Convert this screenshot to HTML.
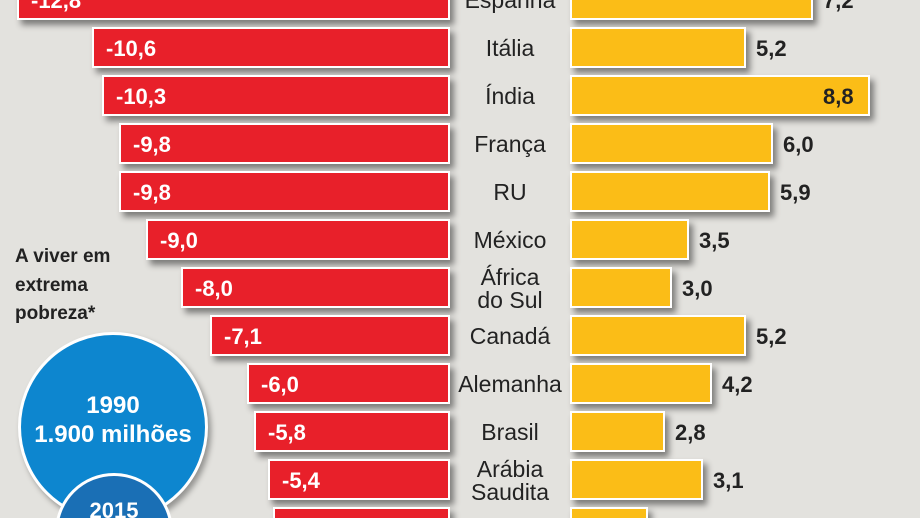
<!DOCTYPE html>
<html style="overflow:hidden;height:518px"><head><meta charset="utf-8"><style>
html,body{margin:0;padding:0}
#f{width:920px;height:518px;overflow:hidden;background:#e3e2de;font-family:"Liberation Sans",sans-serif;position:relative}
.r,.y{position:absolute;height:37px;border:2px solid #fff;box-shadow:4px 5px 6px rgba(0,0,0,.45);box-sizing:content-box}
.r{background:#e8202a;color:#fff;font-weight:bold;font-size:22px;line-height:39px;padding-left:0}
.r span{margin-left:12px}
.y{background:#fbbd17}
.v{position:absolute;font-weight:bold;font-size:22px;color:#222;line-height:43px}
.c{position:absolute;left:450px;width:120px;text-align:center;font-size:23px;color:#222;line-height:23px}
.t{position:absolute;left:15px;font-weight:bold;font-size:19px;color:#222}
.circ{position:absolute;border-radius:50%;border:3px solid #fff;color:#fff;text-align:center;font-weight:bold;box-sizing:border-box}
</style></head><body>
<div id="f">
<div id="w"></div>
<div class="t" style="top:246px">A viver em</div>
<div class="t" style="top:275px">extrema</div>
<div class="t" style="top:303px">pobreza*</div>
<div class="circ" style="left:18px;top:332px;width:190px;height:190px;background:#0d86cf;box-shadow:3px 4px 6px rgba(0,0,0,.35)"><div style="margin-top:56px;font-size:24px;line-height:29px">1990<br>1.900 milhões</div></div>
<div class="circ" style="left:55px;top:473px;width:118px;height:118px;background:#1a6fb5;font-size:22px"><div style="margin-top:22px">2015</div></div>
</div>
<script>
var d=[["Espanha",-12.8,"-12,8",17,813,"7,2",-3],["Itália",-10.6,"-10,6",92,746,"5,2"],["Índia",0,"-10,3",102,870,"8,8"],["França",0,"-9,8",119,773,"6,0"],["RU",0,"-9,8",119,770,"5,9"],["México",0,"-9,0",146,689,"3,5"],["África<br>do Sul",0,"-8,0",181,672,"3,0"],["Canadá",0,"-7,1",210,746,"5,2"],["Alemanha",0,"-6,0",247,712,"4,2"],["Brasil",0,"-5,8",254,665,"2,8"],["Arábia<br>Saudita",0,"-5,4",268,703,"3,1"],["Japão",0,"-5,0",273,648,"2,2"]];
var h="";
d.forEach(function(r,i){var top=-21+48*i;var two=r[0].indexOf("<br>")>0;
h+='<div class="r" style="left:'+r[3]+'px;top:'+top+'px;width:'+(446-r[3])+'px"><span>'+r[2]+'</span></div>';
h+='<div class="y" style="left:570px;top:'+top+'px;width:'+(r[4]-574)+'px"></div>';
if(r[0]=="Índia")h+='<div class="v" style="left:823px;top:'+top+'px">'+r[5]+'</div>';
else h+='<div class="v" style="left:'+(r[4]+10)+'px;top:'+top+'px">'+r[5]+'</div>';
h+='<div class="c" style="top:'+(two?top-1:top+10)+'px">'+r[0]+'</div>';});
document.getElementById("w").innerHTML=h;
</script>
</body></html>
